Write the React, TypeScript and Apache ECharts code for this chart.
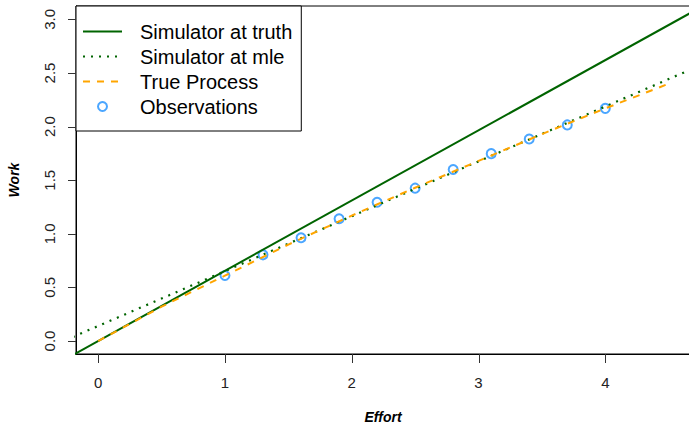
import React, { useEffect, useRef } from "react";
import * as echarts from "echarts";

const effortObs = [1.0, 1.3, 1.6, 1.9, 2.2, 2.5, 2.8, 3.1, 3.4, 3.7, 4.0];
const workObs = [0.611, 0.804, 0.963, 1.14, 1.295, 1.426, 1.6, 1.748, 1.885, 2.016, 2.17];

const truthX = [-0.2, 4.7];
const truthY = [-0.131, 3.079];

const mleX = [-0.2, 4.7];
const mleY = [0.038, 2.546];

const processX = [0, 0.5, 1, 1.5, 2, 2.5, 3, 3.5, 4, 4.5];
const processY = [0, 0.32, 0.61, 0.9, 1.17, 1.43, 1.68, 1.93, 2.17, 2.4];

const xTicks = [0, 1, 2, 3, 4];
const yTicks = [0, 0.5, 1, 1.5, 2, 2.5, 3];

const X_MIN = -0.175;
const X_MAX = 4.668;
const Y_MIN = -0.121;
const Y_MAX = 3.125;

const zip = (xs: number[], ys: number[]) => xs.map((x, i) => [x, ys[i]]);

export default function App() {
  const ref = useRef<HTMLDivElement>(null);
  useEffect(() => {
    if (!ref.current) return;
    const chart = echarts.init(ref.current, undefined, { renderer: "svg" });
    const font = "'Liberation Sans', Arial, sans-serif";
    const hideSymbol = { opacity: 0 };
    const tickColor = "#333";
    chart.setOption({
      animation: false,
      textStyle: { fontFamily: font },
      grid: {
        left: 76,
        top: 6,
        right: -1,
        bottom: 71,
        containLabel: false,
        outerBoundsMode: "none",
        show: true,
        borderColor: "#000",
        borderWidth: 1,
        backgroundColor: "transparent",
      },
      legend: {
        orient: "vertical",
        left: 76,
        top: 6,
        backgroundColor: "#fff",
        borderColor: "#000",
        borderWidth: 1,
        borderRadius: 0,
        padding: [13, 9, 12, 6],
        itemWidth: 39,
        itemHeight: 9,
        itemGap: 0,
        textStyle: {
          fontSize: 20,
          lineHeight: 25,
          color: "#000",
          fontFamily: font,
          padding: [0, 0, 0, 13],
        },
        data: [
          { name: "Simulator at truth", itemStyle: hideSymbol },
          { name: "Simulator at mle", itemStyle: hideSymbol },
          { name: "True Process", itemStyle: hideSymbol },
          { name: "Observations", icon: "emptyCircle" },
        ],
      },
      xAxis: {
        type: "value",
        min: X_MIN,
        max: X_MAX,
        name: "Effort",
        nameLocation: "middle",
        nameGap: 56,
        nameTextStyle: { fontSize: 14, fontWeight: "bold", fontStyle: "italic", color: "#000" },
        axisLine: { show: true, onZero: false, lineStyle: { color: "#000", width: 1 } },
        splitLine: { show: false },
        axisTick: { show: false },
        axisLabel: { fontSize: 15, color: "#222", margin: 21, customValues: xTicks },
      },
      yAxis: {
        type: "value",
        min: Y_MIN,
        max: Y_MAX,
        name: "Work",
        nameLocation: "middle",
        nameGap: 55,
        nameRotate: 90,
        nameTextStyle: { fontSize: 14, fontWeight: "bold", fontStyle: "italic", color: "#000" },
        axisLine: { show: true, onZero: false, lineStyle: { color: "#000", width: 1 } },
        splitLine: { show: false },
        axisTick: { show: false },
        axisLabel: {
          fontSize: 15,
          color: "#222",
          margin: 19,
          rotate: 90,
          customValues: yTicks,
          formatter: (v: number) => v.toFixed(1),
        },
      },
      series: [
        {
          name: "Simulator at truth",
          type: "line",
          data: zip(truthX, truthY),
          symbol: "none",
          clip: true,
          lineStyle: { color: "#006400", width: 2 },
          itemStyle: { color: "#006400" },
        },
        {
          name: "Simulator at mle",
          type: "line",
          data: zip(mleX, mleY),
          symbol: "none",
          clip: true,
          lineStyle: { color: "#006400", width: 2.2, type: [2, 6] },
          itemStyle: { color: "#006400" },
        },
        {
          name: "True Process",
          type: "line",
          data: zip(processX, processY),
          symbol: "none",
          clip: true,
          lineStyle: { color: "#FFA500", width: 2, type: [7, 7] },
          itemStyle: { color: "#FFA500" },
        },
        {
          name: "Observations",
          type: "scatter",
          data: zip(effortObs, workObs),
          symbol: "emptyCircle",
          symbolSize: 9,
          itemStyle: { color: "#1E90FF", borderColor: "#1E90FF", borderWidth: 2 },
        },
      ],
    });

    // Tick marks placed through the chart's own scales
    const finder = { xAxisIndex: 0, yAxisIndex: 0 };
    const tickEls: any[] = [];
    xTicks.forEach((v) => {
      const p = chart.convertToPixel(finder, [v, Y_MIN]) as number[];
      if (!p) return;
      const x = Math.round(p[0]) + 0.5;
      tickEls.push({
        type: "line",
        z: 100,
        silent: true,
        shape: { x1: x, y1: p[1], x2: x, y2: p[1] + 9 },
        style: { stroke: tickColor, lineWidth: 1 },
      });
    });
    yTicks.forEach((v) => {
      const p = chart.convertToPixel(finder, [X_MIN, v]) as number[];
      if (!p) return;
      const y = Math.round(p[1]) + 0.5;
      tickEls.push({
        type: "line",
        z: 100,
        silent: true,
        shape: { x1: p[0] - 8, y1: y, x2: p[0], y2: y },
        style: { stroke: tickColor, lineWidth: 1 },
      });
    });
    chart.setOption({ graphic: tickEls });

    return () => chart.dispose();
  }, []);
  return (
    <div
      ref={ref}
      style={{ position: "fixed", left: 0, top: 0, width: 689, height: 425, background: "#fff" }}
    />
  );
}
